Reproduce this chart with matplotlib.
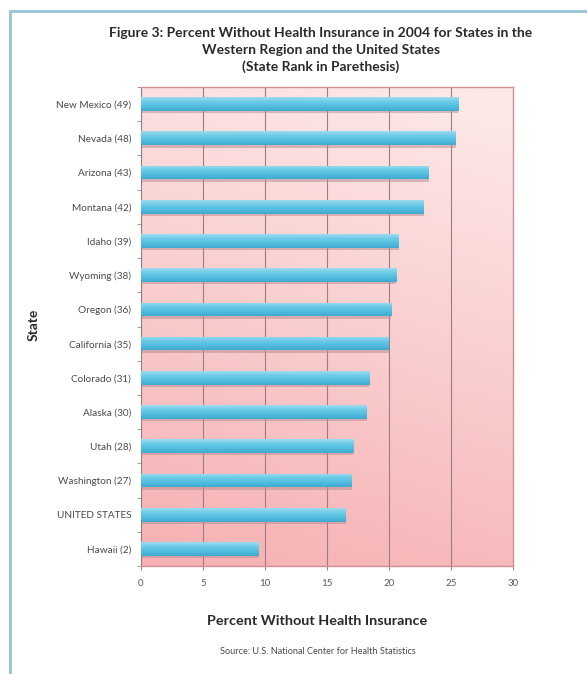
import numpy as np
import matplotlib
matplotlib.use("Agg")
import matplotlib.pyplot as plt
from matplotlib.lines import Line2D
from matplotlib.colors import LinearSegmentedColormap

# Percent without health insurance, 2004 (state rank in parentheses)
states = [
    "New Mexico (49)", "Nevada (48)", "Arizona (43)", "Montana (42)",
    "Idaho (39)", "Wyoming (38)", "Oregon (36)", "California (35)",
    "Colorado (31)", "Alaska (30)", "Utah (28)", "Washington (27)",
    "UNITED STATES", "Hawaii (2)",
]
percent_uninsured = [25.6, 25.4, 23.2, 22.8, 20.8, 20.6, 20.2, 20.0,
                     18.4, 18.2, 17.1, 17.0, 16.5, 9.5]
x_ticks = [0, 5, 10, 15, 20, 25, 30]

plt.rcParams["font.family"] = ["Lato", "DejaVu Sans"]

W, H = 587, 674
fig = plt.figure(figsize=(W / 100, H / 100), dpi=100)
fig.patch.set_facecolor("white")

# light blue frame on the left and top edges
frame_col = "#9fc6d8"
fig.add_artist(Line2D([10 / W, 10 / W], [0, 1 - 11 / H], color=frame_col, lw=2.2,
                      transform=fig.transFigure))
fig.add_artist(Line2D([10 / W, 1], [1 - 11 / H, 1 - 11 / H], color=frame_col, lw=2.2,
                      transform=fig.transFigure))

ax = fig.add_axes([141 / W, 1 - 566 / H, 372 / W, 479 / H])

n = len(states)
ypos = np.arange(n)

# pink gradient background of the plotting area
gy = np.linspace(0, 1, 200)[:, None]
gx = np.linspace(0, 1, 200)[None, :]
t = np.clip(0.85 * gy + 0.2 * (1 - gx) - 0.05, 0, 1)  # 0 = top-right, 1 = bottom-left
top_c = np.array([253, 232, 232]) / 255
bot_c = np.array([246, 176, 178]) / 255
bg = top_c[None, None, :] * (1 - t[..., None]) + bot_c[None, None, :] * t[..., None]
ax.imshow(bg, extent=[0, 1, 0, 1], transform=ax.transAxes, aspect="auto",
          zorder=0, interpolation="bicubic")

ax.set_xlim(0, 30)
ax.set_ylim(n - 0.5, -0.5)

# vertical gridlines
for xv in x_ticks[1:-1]:
    ax.axvline(xv, color="#9a7f80", lw=0.8, zorder=1)

bar_h = 0.4
# soft shadow under each bar
ax.barh(ypos + 0.07, percent_uninsured, height=bar_h, color="#b98f93",
        alpha=0.55, zorder=2, edgecolor="none")
bars = ax.barh(ypos, percent_uninsured, height=bar_h, color="#5cc3e2",
               zorder=3, edgecolor="none")

# vertical shading inside each bar
bar_cmap = LinearSegmentedColormap.from_list(
    "barshade", ["#9fdcef", "#6ccbe8", "#52bde0", "#3fa9cf"])
grad = np.linspace(0, 1, 64)[:, None]
for b in bars:
    x0, y0 = b.get_x(), b.get_y()
    w, h = b.get_width(), b.get_height()
    im = ax.imshow(grad, cmap=bar_cmap, extent=[x0, x0 + w, y0 + h, y0],
                   aspect="auto", zorder=4, interpolation="bicubic")
    im.set_clip_path(b)

ax.set_xlim(0, 30)
ax.set_ylim(n - 0.5, -0.5)

ax.set_yticks(ypos)
ax.set_yticklabels(states, fontsize=7.2, color="#4a4a4a")
ax.set_yticks(np.arange(-0.5, n, 1), minor=True)
ax.tick_params(axis="y", which="major", length=0, pad=7)
ax.tick_params(axis="y", which="minor", length=3, direction="out", color="#9a8a8a")

ax.set_xticks(x_ticks)
ax.set_xticklabels([str(v) for v in x_ticks], fontsize=7.0, color="#5a5a5a")
ax.tick_params(axis="x", length=3, direction="out", color="#9a8a8a", pad=6)

for side in ["top", "right", "bottom"]:
    ax.spines[side].set_color("#d08f94")
    ax.spines[side].set_linewidth(1.0)
ax.spines["left"].set_color("#8a8080")
ax.spines["left"].set_linewidth(0.8)

ax.set_xlabel("Percent Without Health Insurance", fontsize=10.4, fontweight="bold",
              color="#2a2a2a")
ax.xaxis.set_label_coords((317 - 141) / 372, -(621 - 566) / 479)
ax.xaxis.label.set_va("center")
ax.set_ylabel("State", fontsize=10, fontweight="bold", color="#2a2a2a")
ax.yaxis.set_label_coords((34 - 141) / 372, (566 - 325) / 479)
ax.yaxis.label.set_va("center")

fig.text(321 / W, 1 - 50 / H,
         "Figure 3: Percent Without Health Insurance in 2004 for States in the\n"
         "Western Region and the United States\n"
         "(State Rank in Parethesis)",
         ha="center", va="center", fontsize=10, fontweight="bold",
         color="#2a2a2a", linespacing=1.45)
fig.text(318 / W, 1 - 651 / H, "Source: U.S. National Center for Health Statistics",
         ha="center", va="center", fontsize=6.6, color="#4a4a4a")

fig.savefig("out.png", dpi=100, facecolor="white")
